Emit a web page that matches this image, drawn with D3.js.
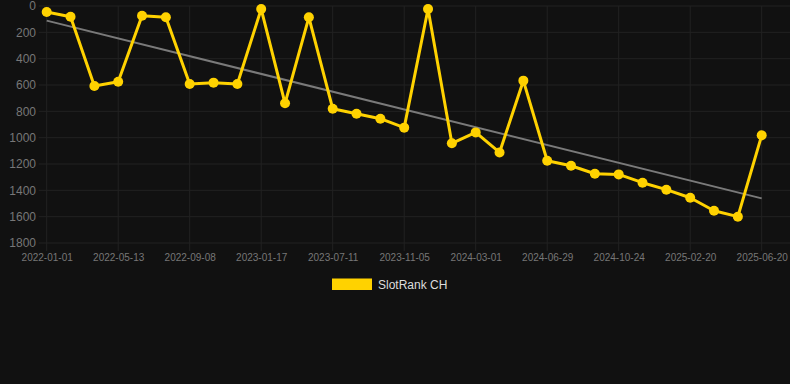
<!DOCTYPE html>
<html>
<head>
<meta charset="utf-8">
<script src="https://cdn.jsdelivr.net/npm/d3@7"></script>
<style>
  html, body { margin: 0; padding: 0; background: #111111; }
  svg { display: block; }
</style>
</head>
<body>
<svg id="chart" width="790" height="384"></svg>
<script>
const dates = [
  "2022-01-01","2022-02-14","2022-03-30","2022-05-13","2022-06-21","2022-07-30",
  "2022-09-08","2022-10-22","2022-12-05","2023-01-17","2023-03-16","2023-05-13",
  "2023-07-11","2023-08-19","2023-09-27","2023-11-05","2023-12-14","2024-01-22",
  "2024-03-01","2024-04-10","2024-05-20","2024-06-29","2024-08-07","2024-09-15",
  "2024-10-24","2024-12-03","2025-01-11","2025-02-20","2025-04-01","2025-05-11",
  "2025-06-20"
];
const ranks = [
  46, 81, 608, 575, 74, 86,
  592, 582, 592, 23, 739, 86,
  780, 818, 856, 924, 23, 1043,
  960, 1112, 567, 1175, 1213, 1274,
  1279, 1342, 1395, 1456, 1555, 1600,
  982
];
const trendEnds = [111, 1461];
const yTicks = [0, 200, 400, 600, 800, 1000, 1200, 1400, 1600, 1800];
const seriesName = "SlotRank CH";

(function () {
const svg = d3.select("#chart");
const pLeft = 46.7, pRight = 761.7, pTop = 6, pBottom = 243;
const gridLeft = 38.7, gridRight = 790;

const x = d3.scalePoint().domain(dates).range([pLeft, pRight]);
const y = d3.scaleLinear().domain([0, 1800]).range([pTop, pBottom]);

const tickDates = dates.filter((d, i) => i % 3 === 0);

// horizontal grid
svg.append("g").selectAll("line").data(yTicks).join("line")
  .attr("x1", gridLeft).attr("x2", gridRight)
  .attr("y1", d => y(d)).attr("y2", d => y(d))
  .attr("stroke", "#222222").attr("stroke-width", 1);

// vertical grid
svg.append("g").selectAll("line").data(tickDates).join("line")
  .attr("x1", d => x(d)).attr("x2", d => x(d))
  .attr("y1", pTop).attr("y2", pBottom + 8)
  .attr("stroke", "#222222").attr("stroke-width", 1);

// y axis labels
const yAxis = d3.axisLeft(y).tickValues(yTicks).tickFormat(d3.format("d")).tickSize(0).tickPadding(0);
const gy = svg.append("g").attr("transform", "translate(36,0)").call(yAxis);
gy.select(".domain").remove();
gy.selectAll("text")
  .attr("fill", "#777777")
  .style("font-family", "Helvetica, Arial, 'Liberation Sans', sans-serif")
  .style("font-size", "12px");

// x axis labels
const xAxis = d3.axisBottom(x).tickValues(tickDates).tickSize(0).tickPadding(0);
const gx = svg.append("g").attr("transform", "translate(0,254)").call(xAxis);
gx.select(".domain").remove();
gx.selectAll("text")
  .attr("fill", "#777777")
  .attr("dy", "0.71em")
  .style("font-family", "Helvetica, Arial, 'Liberation Sans', sans-serif")
  .style("font-size", "10px");

// trend line
svg.append("line")
  .attr("x1", x(dates[0])).attr("y1", y(trendEnds[0]))
  .attr("x2", x(dates[dates.length - 1])).attr("y2", y(trendEnds[1]))
  .attr("stroke", "#7a7a7a").attr("stroke-width", 2);

// series line
const pts = dates.map((d, i) => ({ d, v: ranks[i] }));
svg.append("path")
  .datum(pts)
  .attr("fill", "none")
  .attr("stroke", "#FFD200")
  .attr("stroke-width", 3)
  .attr("stroke-linejoin", "round")
  .attr("d", d3.line().x(p => x(p.d)).y(p => y(p.v)));

svg.append("g").selectAll("circle").data(pts).join("circle")
  .attr("cx", p => x(p.d)).attr("cy", p => y(p.v))
  .attr("r", 5).attr("fill", "#FFD200");

// legend
const lg = svg.append("g");
lg.append("rect").attr("x", 332).attr("y", 278.5).attr("width", 40).attr("height", 11.5)
  .attr("fill", "#FFD200");
lg.append("text").attr("x", 378).attr("y", 284.5).attr("dy", "0.35em")
  .attr("fill", "#dddddd")
  .style("font-family", "Helvetica, Arial, 'Liberation Sans', sans-serif")
  .style("font-size", "12px")
  .text(seriesName);
})();
</script>
</body>
</html>
